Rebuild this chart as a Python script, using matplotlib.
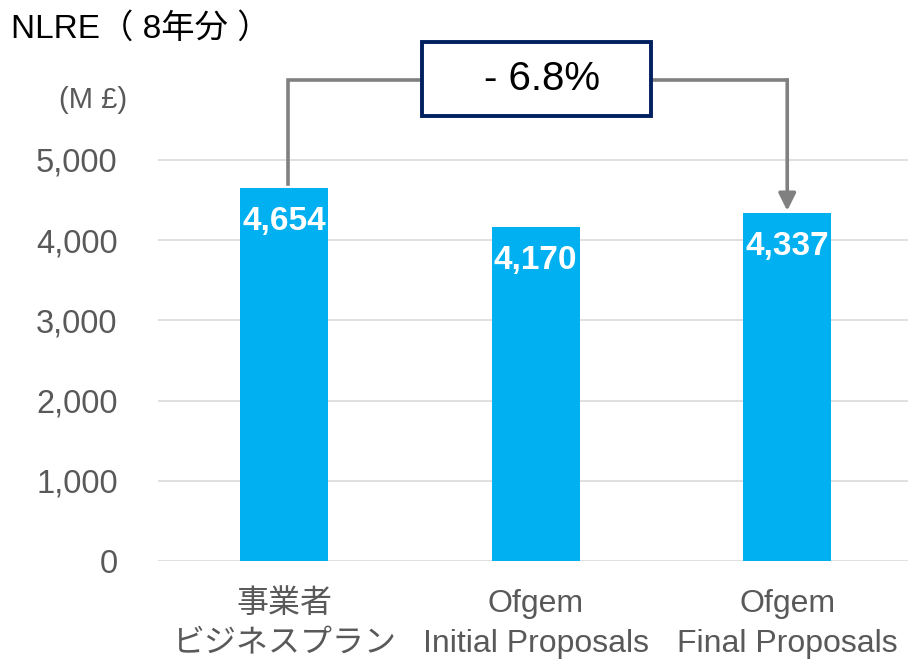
import matplotlib
matplotlib.use("Agg")
import matplotlib.pyplot as plt
from matplotlib.patches import Rectangle

plt.rcParams['font.family'] = ['Liberation Sans', 'Noto Sans CJK JP', 'DejaVu Sans']

# data
categories = ['事業者\nビジネスプラン', 'Ofgem\nInitial Proposals', 'Ofgem\nFinal Proposals']
values = [4654, 4170, 4337]
value_labels = ['4,654', '4,170', '4,337']
yticks = [0, 1000, 2000, 3000, 4000, 5000]
ytick_labels = ['0', '1,000', '2,000', '3,000', '4,000', '5,000']
change_label = '- 6.8%'

BAR = '#00B0F0'
GREY_TXT = '#595959'
GRID = '#D9D9D9'
LINE = '#808080'
NAVY = '#002060'

fig = plt.figure(figsize=(9.08, 6.65), dpi=100)
ax = fig.add_axes([0.174, 0.1564, 0.826, 0.7839])

x = range(len(values))
ax.bar(x, values, width=0.35, color=BAR, zorder=2)

for xi, v, lab in zip(x, values, value_labels):
    ax.text(xi, v - 420, lab, ha='center', va='center', color='white',
            fontsize=24, fontweight='bold', zorder=3)

ax.set_xlim(-0.501, 2.48)
ax.set_ylim(0, 6500)
ax.set_yticks(yticks)
ax.set_yticklabels(ytick_labels)
ax.set_xticks(list(x))
ax.set_xticklabels(categories, linespacing=1.45)
ax.tick_params(axis='y', length=0, pad=29, labelsize=23.5, labelcolor=GREY_TXT)
ax.tick_params(axis='x', length=0, pad=20, labelsize=23, labelcolor=GREY_TXT)
ax.grid(axis='y', color=GRID, lw=1.2, zorder=0)
ax.set_axisbelow(True)
for s in ax.spines.values():
    s.set_visible(False)

# bracket showing the change from business plan to final proposals
top = 6000
ax.plot([0.016, 0.016, 2.0], [values[0] + 50, top, top], color=LINE, lw=2.6,
        solid_joinstyle='miter', clip_on=False, zorder=3)
ax.annotate('', xy=(2.0, values[2] + 30), xytext=(2.0, top),
            arrowprops=dict(arrowstyle='-|>', lw=2.6, color=LINE,
                            mutation_scale=26, shrinkA=0, shrinkB=0),
            annotation_clip=False, zorder=3)
ax.add_patch(Rectangle((0.548, 5549), 0.91, 922, facecolor='white',
                       edgecolor=NAVY, lw=2.8, clip_on=False, zorder=4))
ax.text(1.025, 6010, change_label, ha='center', va='center', fontsize=29,
        color='black', zorder=5)

fig.text(0.012, 0.957, 'NLRE（ 8年分 ）', ha='left', va='center', fontsize=24,
         color='black')
fig.text(0.14, 0.849, '(M £)', ha='right', va='center', fontsize=21,
         color=GREY_TXT)

fig.savefig('out.png', dpi=100)
